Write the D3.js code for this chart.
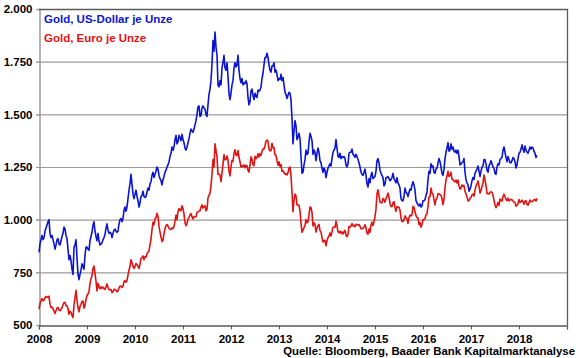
<!DOCTYPE html>
<html><head><meta charset="utf-8">
<script src="https://cdn.jsdelivr.net/npm/d3@7"></script>
<style>body{margin:0;background:#fff}svg{display:block}text{font-family:"Liberation Sans",Arial,sans-serif;font-weight:bold}</style>
</head><body><svg id="c" width="580" height="358"></svg>
<script>
// Weekly-ish samples (4 per month), starting Jan 2008
const startYear = 2008;
const samplesPerMonth = 4;
const usd = [
 845,885,905,925, 905,915,945,960, 975,990,1000,935, 915,925,905,885, 860,880,905,910, 885,880,900,920,
 935,965,955,925, 910,860,810,830, 805,765,740,870, 880,905,820,740, 715,740,760,790, 780,765,830,870,
 870,860,855,900, 920,940,975,990, 945,920,900,935, 900,880,885,890, 905,915,930,960, 980,950,935,940,
 935,915,935,950, 955,945,940,945, 980,1000,1005,990, 1005,1045,1060,1040, 1060,1100,1140,1170, 1215,1170,1120,1100,
 1120,1140,1110,1090, 1060,1080,1110,1115, 1135,1110,1105,1110, 1130,1150,1140,1170, 1180,1210,1225,1200, 1215,1230,1250,1240,
 1210,1195,1185,1165, 1190,1205,1225,1235, 1250,1260,1275,1300, 1315,1345,1330,1345, 1380,1400,1360,1370, 1400,1390,1375,1405,
 1380,1365,1340,1330, 1345,1365,1385,1410, 1430,1420,1415,1430, 1450,1470,1500,1535, 1540,1490,1495,1530, 1540,1530,1525,1500,
 1490,1545,1595,1620, 1660,1740,1850,1800, 1890,1820,1780,1640, 1630,1660,1640,1720, 1745,1780,1720,1710, 1745,1680,1600,1570,
 1600,1640,1660,1720, 1745,1725,1735,1780, 1710,1670,1650,1670, 1640,1650,1645,1660, 1645,1580,1545,1560, 1610,1620,1590,1570,
 1600,1585,1580,1615, 1610,1615,1630,1670, 1695,1735,1770,1770, 1790,1770,1735,1710, 1700,1730,1730,1745, 1700,1710,1690,1660,
 1670,1665,1690,1660, 1675,1640,1605,1595, 1575,1590,1605,1600, 1570,1480,1360,1420, 1470,1445,1380,1390, 1410,1385,1300,1220,
 1225,1260,1285,1330, 1310,1315,1370,1410, 1395,1375,1310,1330, 1320,1280,1315,1340, 1320,1280,1270,1245, 1225,1245,1235,1200,
 1225,1245,1255,1265, 1255,1290,1320,1330, 1340,1380,1340,1300, 1295,1315,1290,1300, 1295,1300,1290,1260, 1250,1265,1315,1320,
 1320,1335,1310,1305, 1295,1310,1300,1285, 1270,1250,1225,1215, 1210,1225,1240,1210, 1170,1155,1195,1175, 1210,1225,1195,1200,
 1205,1230,1280,1290, 1270,1235,1220,1210, 1200,1160,1170,1200, 1200,1205,1195,1185, 1190,1200,1220,1195, 1185,1175,1200,1175,
 1165,1150,1100,1090, 1090,1110,1150,1130, 1125,1110,1130,1145, 1140,1165,1180,1165, 1140,1090,1080,1070, 1065,1075,1060,1065,
 1090,1090,1095,1115, 1130,1190,1230,1220, 1265,1250,1255,1225, 1220,1240,1245,1270, 1290,1275,1250,1220, 1210,1240,1290,1320,
 1340,1365,1325,1330, 1360,1335,1345,1325, 1320,1330,1315,1330, 1300,1260,1265,1270, 1275,1290,1225,1190, 1175,1165,1135,1145,
 1160,1185,1200,1190, 1220,1230,1240,1255, 1230,1205,1230,1250, 1255,1285,1285,1265, 1235,1225,1255,1265, 1280,1265,1250,1245,
 1220,1215,1250,1265, 1260,1285,1290,1295, 1330,1345,1320,1295, 1275,1300,1285,1270, 1270,1280,1295,1290, 1275,1245,1260,1290,
 1315,1320,1335,1355, 1335,1320,1350,1330, 1320,1315,1330,1345, 1335,1345,1340,1325, 1315,1295,1305
];
const eur = [
 575,602,615,625, 615,618,630,636, 633,630,637,599, 583,585,576,567, 555,568,580,583, 571,568,573,582,
 596,607,608,593, 591,577,551,565, 560,545,535,595, 629,665,617,583, 563,587,598,612, 614,580,593,621,
 640,647,658,698, 719,734,768,780, 744,708,662,698, 682,672,681,674, 680,673,669,681, 695,679,668,667,
 668,654,658,669, 668,665,657,661, 676,685,684,678, 684,706,711,703, 711,738,760,780, 810,796,778,769,
 778,792,787,779, 768,788,816,820, 828,810,825,822, 837,846,851,880, 908,953,988,976, 1004,1008,1030,1016,
 968,941,919,896, 902,934,957,972, 977,969,959,956, 953,961,957,968, 993,1022,1000,1038, 1053,1045,1042,1066,
 1053,1026,985,971, 982,1004,1011,1022, 1029,1014,1004,1014, 1014,1014,1034,1037, 1041,1042,1060,1070, 1055,1063,1066,1042,
 1049,1104,1115,1125, 1161,1217,1285,1250, 1360,1328,1299,1215, 1216,1212,1180,1220, 1264,1309,1284,1286, 1302,1282,1231,1208,
 1250,1281,1277,1313, 1332,1307,1305,1328, 1295,1275,1250,1256, 1252,1260,1246,1258, 1256,1234,1226,1258, 1298,1286,1262,1256,
 1301,1289,1295,1313, 1298,1313,1304,1325, 1335,1335,1351,1372, 1378,1372,1335,1326, 1328,1362,1341,1342, 1308,1305,1280,1258,
 1275,1252,1261,1230, 1232,1224,1216,1218, 1212,1223,1244,1250, 1208,1130,1038,1092, 1122,1112,1070,1069, 1068,1041,985,940,
 950,962,973,1000, 985,989,1022,1060, 1057,1034,970,985, 978,941,960,971, 978,948,941,915, 894,902,901,876,
 901,915,923,937, 923,942,964,964, 964,993,971,942, 938,946,935,942, 932,942,949,926, 919,930,967,964,
 971,982,970,974, 966,978,977,973, 977,969,957,957, 960,965,976,960, 936,931,956,940, 976,988,972,992,
 1013,1051,1123,1142, 1114,1083,1080,1080, 1101,1094,1083,1101, 1111,1126,1106,1077, 1063,1062,1080,1086, 1058,1040,1062,1059,
 1059,1045,1009,991, 991,1000,1018,1009, 1004,982,1009,1022, 1018,1022,1063,1059, 1036,1019,1009,1009, 977,986,964,977,
 1000,1000,1005,1023, 1027,1063,1108,1109, 1150,1126,1121,1094, 1070,1097,1102,1124, 1122,1118,1116,1099, 1071,1097,1152,1189,
 1207,1230,1205,1209, 1225,1192,1190,1183, 1179,1188,1174,1188, 1161,1145,1150,1165, 1159,1162,1134,1123, 1108,1089,1091,1101,
 1105,1118,1121,1112, 1140,1160,1170,1184, 1160,1126,1139,1157, 1173,1212,1190,1161, 1123,1124,1121,1129, 1133,1129,1116,1092,
 1070,1057,1068,1081, 1068,1098,1093,1088, 1108,1121,1109,1097, 1090,1102,1089,1095, 1095,1094,1088,1084, 1081,1064,1068,1075,
 1096,1082,1085,1093, 1085,1073,1089,1090, 1073,1069,1081,1093, 1085,1085,1089,1095, 1096,1088,1102
];
const yTicks = [500,750,1000,1250,1500,1750,2000];
const xTicks = [2008,2009,2010,2011,2012,2013,2014,2015,2016,2017,2018,2019];
const xTickLabels = ["2008","2009","2010","2011","2012","2013","2014","2015","2016","2017","2018"];
const seriesNames = ["Gold, US-Dollar je Unze","Gold, Euro je Unze"];
const seriesColors = ["#0a14d2","#e21212"];
const source = "Quelle: Bloomberg, Baader Bank Kapitalmarktanalyse";

const svg = d3.select("#c");
const L=39, R=567, T=9, B=325;
const x = d3.scaleLinear().domain([2008,2019]).range([L,R]);
const y = d3.scaleLinear().domain([500,2000]).range([B,T]);
const t = i => startYear + Math.floor(i/samplesPerMonth)/12 + (i%samplesPerMonth)/(12*samplesPerMonth);
const fmt = v => d3.format(",")(v).replace(",",".");

// gridlines
svg.append("g").selectAll("line").data(yTicks.filter(v=>v>500 && v<2000)).join("line")
  .attr("x1",L-3).attr("x2",R).attr("y1",d=>y(d)+0.5).attr("y2",d=>y(d)+0.5)
  .attr("stroke","#9a9a9a").attr("stroke-width",1.2);

// y axis
const ya = svg.append("g").attr("transform",`translate(${L+0.5},0)`)
  .call(d3.axisLeft(y).tickValues(yTicks).tickSize(3).tickPadding(4).tickFormat(fmt));
ya.select(".domain").attr("stroke","#9a9a9a").attr("stroke-width",1.5);
ya.selectAll(".tick line").attr("stroke","#9a9a9a");
ya.selectAll("text").attr("font-size","11.5px").attr("fill","#000").attr("font-family",'"Liberation Sans",Arial,sans-serif').attr("font-weight","bold");

// frame top/right
svg.append("path").attr("d",`M${L},${T+0.5}H${R+0.5}V${B}`).attr("fill","none").attr("stroke","#5a5a5a").attr("stroke-width",1.3);

// x axis
const xa = svg.append("g").attr("transform",`translate(0,${B+0.5})`)
  .call(d3.axisBottom(x).tickValues(xTicks).tickSize(4).tickPadding(5).tickFormat(d=>xTickLabels.includes(String(d))?String(d):""));
xa.select(".domain").attr("stroke","#5a5a5a").attr("stroke-width",1.3);
xa.selectAll(".tick line").attr("stroke","#5a5a5a");
xa.selectAll("text").attr("font-size","11.5px").attr("fill","#000").attr("font-family",'"Liberation Sans",Arial,sans-serif').attr("font-weight","bold");

// lines
const line = d3.line().x((d,i)=>x(t(i))).y(d=>y(d));
[usd, eur].forEach((s,k)=>{
  svg.append("path").datum(s).attr("d",line).attr("fill","none")
    .attr("stroke",seriesColors[k]).attr("stroke-width",1.6).attr("stroke-linejoin","round");
});

// legend
seriesNames.forEach((n,k)=>{
  svg.append("text").attr("x",44).attr("y",23+k*19).attr("font-size","11.5px").attr("fill",seriesColors[k]).text(n);
});

// source
svg.append("text").attr("x",575).attr("y",355).attr("text-anchor","end").attr("font-size","11.4px").attr("fill","#000").text(source);
</script></body></html>
